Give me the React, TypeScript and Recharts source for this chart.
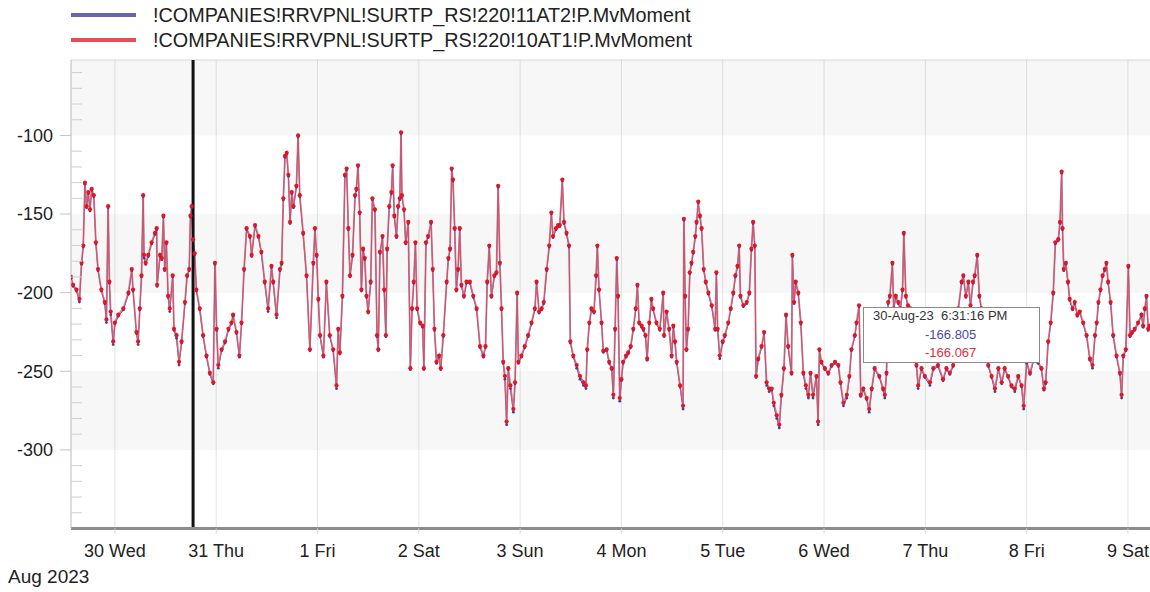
import React from 'react';
import { LineChart, Line, XAxis, YAxis, CartesianGrid, ReferenceArea, ReferenceLine } from 'recharts';

// hours since 30 Aug 2023 00:00
const hours = [
  -10.4, -9.9, -9.1, -8.4, -7.9, -7.5, -7.1, -6.7, -6.3, -5.9,
  -5.5, -5.0, -4.5, -4.0, -3.2, -2.4, -2.0, -1.6, -1.3, -1.0,
  -0.4, 0.0, 0.8, 2.0, 3.2, 4.0, 4.3, 5.1, 5.5, 5.9,
  6.3, 6.7, 6.9, 7.3, 7.9, 8.7, 9.5, 9.9, 10.0, 10.7,
  11.1, 11.5, 11.8, 12.2, 12.6, 13.0, 13.7, 14.0, 14.6, 15.2,
  15.8, 16.6, 17.1, 17.6, 17.9, 18.2, 18.5, 18.9, 19.3, 20.1,
  20.9, 21.7, 22.5, 23.3, 23.7, 24.1, 24.5, 25.3, 26.1, 26.9,
  27.6, 28.0, 28.8, 29.5, 30.0, 30.6, 31.2, 32.0, 32.4, 33.2,
  34.0, 34.7, 35.5, 36.3, 37.1, 37.5, 38.3, 39.1, 39.5, 39.9,
  40.3, 40.7, 41.1, 41.5, 41.9, 42.3, 43.0, 43.4, 43.8, 44.6,
  45.4, 46.2, 47.0, 47.4, 47.8, 48.2, 48.6, 49.4, 50.1, 50.9,
  51.7, 52.5, 52.9,
  53.3, 53.9, 54.5, 54.9, 55.3, 55.7, 56.3, 56.9, 57.2, 57.6,
  58.0, 58.4, 58.8, 59.2, 59.6, 60.0, 60.6, 61.0, 61.6, 62.1,
  62.4, 62.8, 63.4, 63.8, 64.2, 64.5, 65.0, 65.5, 65.8, 66.2,
  66.7, 67.1, 67.5, 67.8, 68.0, 68.5, 68.9, 69.5, 70.0, 70.4,
  70.8, 71.2, 71.6, 72.3, 72.9, 73.2, 73.7, 74.2, 74.9, 75.3,
  75.7, 76.2, 76.8, 77.2, 77.8, 78.6, 79.0, 79.4, 79.8, 80.1,
  80.5, 80.9, 81.3, 81.7, 82.1, 82.7, 83.3, 84.1, 84.9, 85.7,
  86.5, 87.3, 87.8, 88.2, 88.7, 89.2, 89.9, 90.4, 90.8, 91.2,
  91.6, 92.0, 92.4, 92.8, 93.2, 93.7, 94.4, 94.8, 95.3, 95.6,
  96.3, 97.1, 97.9, 98.7, 99.5, 99.9, 100.5, 101.1, 101.6, 102.3,
  102.9, 103.4, 103.8, 104.5, 105.0, 105.4, 106.0, 106.4, 107.0, 107.6,
  107.9, 108.6, 109.4, 110.2, 111.0, 111.6, 111.9, 112.4, 112.9, 113.5,
  114.0, 114.3, 114.7, 115.3, 115.7, 116.5, 117.1,
  117.7, 118.1, 118.5, 118.9, 119.2, 119.6, 120.0, 120.4, 121.1, 121.6,
  122.2, 122.8, 123.4, 123.8, 124.2, 124.8, 125.2, 125.7, 126.1, 126.6,
  127.1, 127.5, 128.3, 129.1, 129.9, 130.1, 130.7, 131.3, 131.9, 132.3,
  132.7, 133.1, 133.9, 134.6, 134.8, 135.1, 135.4, 135.8, 136.2, 136.6,
  137.0, 137.5, 137.8, 138.2, 138.6, 139.0, 139.5, 140.0, 140.6, 141.4,
  142.2, 142.5, 142.8, 143.3, 144.0, 144.5, 145.3, 145.9, 146.5, 147.0,
  147.5, 147.9, 148.2, 148.9, 149.7, 150.3, 150.8, 151.2, 151.6, 151.9,
  152.4, 153.2, 153.8, 154.4, 155.0, 155.6, 156.1, 156.8, 157.4, 157.9,
  158.5, 159.0, 159.5, 160.3, 160.5, 160.9, 161.3, 161.9, 162.5, 163.1,
  163.7, 164.3, 164.8, 165.4, 166.2, 166.6, 166.9, 167.4, 168.2, 169.0,
  169.8, 170.6, 171.4, 171.9, 172.6, 173.4, 174.0, 174.5, 175.3, 175.7,
  176.3, 176.7, 177.3, 178.1, 178.7, 179.3, 180.0, 181.1,
  182.0, 182.4, 182.8, 183.2, 183.6, 184.2, 184.5, 185.0, 185.6, 186.1,
  186.6, 186.9, 187.4, 187.9, 188.5, 189.1, 189.9, 190.3, 191.1, 191.9,
  193.1, 193.9, 195.0, 196.2, 197.0, 197.8, 198.6, 199.8, 200.6, 201.0,
  201.6, 202.2, 202.7, 203.3, 203.7, 204.3, 204.8, 205.3, 206.1, 206.9,
  207.7, 208.5, 209.3, 210.1, 210.8, 211.6, 212.4, 213.2, 214.0, 214.8,
  215.3, 216.0, 216.8, 217.7, 218.7, 219.5, 220.1, 220.5, 221.1, 221.7,
  222.3, 222.8, 223.5, 223.9, 224.3, 224.5, 224.8, 225.3, 225.8, 226.2,
  226.9, 227.4, 228.0, 228.6, 229.4, 230.2, 231.0, 231.6, 232.2, 232.6,
  233.0, 233.5, 234.0, 234.5, 234.9, 235.3, 235.9, 236.5, 237.3, 238.1,
  238.5, 238.9, 239.5, 240.1, 240.5, 241.0, 241.6, 242.4, 243.2, 243.6,
  244.0, 244.4, 244.8, 245.2,
];

// !COMPANIES!RRVPNL!SURTP_RS!220!11AT2!P.MvMoment
const blueSeries = [
  -191, -196, -199, -206, -182, -171, -131, -146, -137, -148,
  -135, -139, -169, -186, -199, -207, -219, -146, -194, -214,
  -233, -220, -215, -211, -201, -186, -199, -226, -233, -211,
  -190, -139, -178, -182, -177, -169, -163, -160, -196, -177,
  -179, -152, -186, -169, -203, -212, -190, -224, -229, -246,
  -232, -207, -190, -186, -152, -146, -166.805, -176, -199, -211,
  -228, -241, -252, -258, -182, -224, -248, -237, -232, -224,
  -220, -215, -226, -241, -220, -186, -160, -165, -177, -158,
  -165, -175, -194, -212, -184, -194, -216, -186, -182, -141,
  -114, -112, -126, -156, -137, -146, -133, -101, -139, -163,
  -190, -237, -182, -160, -177, -205, -228, -241, -194, -228,
  -237, -261, -224,
  -239, -203, -126, -122, -160, -190, -177, -139, -135, -120,
  -150, -199, -173, -179, -203, -213, -194, -141, -148, -228,
  -237, -175, -165, -199, -228, -173, -146, -137, -120, -152,
  -165, -146, -141, -99, -139, -148, -169, -156, -249, -211,
  -194, -169, -211, -220, -222, -249, -169, -165, -156, -186,
  -224, -245, -241, -249, -228, -194, -179, -173, -122, -129,
  -160, -199, -186, -160, -196, -203, -194, -194, -203, -211,
  -235, -241, -235, -194, -171, -203, -190, -188, -133, -182,
  -211, -245, -255, -284, -249, -261, -276, -258, -201, -245,
  -241, -235, -228, -220, -211, -194, -213, -211, -207, -186,
  -171, -150, -165, -160, -158, -158, -129, -156, -163, -171,
  -232, -241, -248, -255, -259, -261, -237, -220, -211, -213,
  -190, -171, -199, -220, -238, -237, -245,
  -249, -267, -224, -179, -203, -269, -256, -245, -241, -239,
  -235, -224, -211, -196, -220, -222, -224, -228, -243, -220,
  -205, -211, -220, -224, -201, -228, -213, -224, -241, -222,
  -232, -245, -260, -274, -154, -203, -237, -224, -188, -182,
  -175, -165, -156, -143, -152, -160, -186, -194, -201, -209,
  -224, -188, -224, -242, -232, -228, -220, -211, -201, -190,
  -184, -171, -203, -209, -207, -201, -173, -156, -171, -254,
  -243, -235, -226, -259, -263, -262, -272, -280, -286, -266,
  -249, -215, -235, -252, -177, -207, -194, -201, -220, -252,
  -261, -267, -252, -267, -254, -284, -237, -245, -249, -252,
  -247, -245, -247, -258, -272, -267, -254, -237, -228, -220,
  -209, -266, -262, -268, -276, -262, -249, -254,
  -262, -267, -252, -207, -203, -182, -211, -203, -207, -211,
  -199, -163, -203, -209, -211, -237, -247, -261, -249, -254,
  -259, -249, -247, -256, -249, -252, -247, -211, -194, -190,
  -203, -194, -209, -194, -190, -177, -203, -211, -237, -247,
  -254, -263, -249, -258, -249, -254, -260, -263, -254, -260,
  -274, -245, -252, -243, -245, -249, -262, -258, -232, -220,
  -201, -169, -167, -156, -124, -160, -186, -182, -194, -205,
  -211, -207, -215, -213, -220, -228, -243, -248, -228, -220,
  -207, -199, -190, -186, -182, -194, -207, -228, -241, -252,
  -267, -241, -237, -184, -228, -226, -224, -220, -215, -222,
  -211, -203, -224, -222,
];

// !COMPANIES!RRVPNL!SURTP_RS!220!10AT1!P.MvMoment
const redSeries = [
  -190, -195, -198, -204, -181, -170, -130, -145, -136, -147,
  -134, -138, -168, -185, -198, -206, -217, -145, -193, -212,
  -231, -219, -214, -210, -200, -185, -198, -225, -231, -210,
  -189, -138, -176, -181, -176, -168, -162, -159, -195, -176,
  -178, -151, -185, -168, -202, -210, -189, -223, -227, -244,
  -231, -206, -189, -185, -151, -145, -166.067, -175, -198, -210,
  -227, -240, -251, -257, -181, -223, -246, -236, -231, -223,
  -219, -214, -225, -240, -219, -185, -159, -164, -176, -157,
  -164, -174, -193, -210, -183, -193, -214, -185, -181, -140,
  -113, -111, -125, -155, -136, -145, -132, -100, -138, -162,
  -189, -236, -181, -159, -176, -204, -227, -240, -193, -227,
  -236, -259, -223,
  -238, -202, -125, -121, -159, -189, -176, -138, -134, -119,
  -149, -198, -172, -178, -202, -212, -193, -140, -147, -227,
  -236, -174, -164, -198, -227, -172, -145, -136, -119, -151,
  -164, -145, -140, -98, -138, -147, -168, -155, -248, -210,
  -193, -168, -210, -219, -221, -248, -168, -164, -155, -185,
  -223, -244, -240, -248, -227, -193, -178, -172, -121, -128,
  -159, -198, -185, -159, -195, -202, -193, -193, -202, -210,
  -234, -240, -234, -193, -170, -202, -189, -187, -132, -181,
  -210, -244, -253, -282, -248, -259, -274, -257, -200, -244,
  -240, -234, -227, -219, -210, -193, -212, -210, -206, -185,
  -170, -149, -164, -159, -157, -157, -128, -155, -162, -170,
  -231, -240, -246, -253, -257, -259, -236, -219, -210, -212,
  -189, -170, -198, -219, -237, -236, -244,
  -248, -265, -223, -178, -202, -267, -255, -244, -240, -238,
  -234, -223, -210, -195, -219, -221, -223, -227, -242, -219,
  -204, -210, -219, -223, -200, -227, -212, -223, -240, -221,
  -231, -244, -259, -272, -153, -202, -236, -223, -187, -181,
  -174, -164, -155, -142, -151, -159, -185, -193, -200, -208,
  -223, -187, -223, -240, -231, -227, -219, -210, -200, -189,
  -183, -170, -202, -208, -206, -200, -172, -155, -170, -253,
  -242, -234, -225, -257, -261, -261, -270, -278, -284, -265,
  -248, -214, -234, -251, -176, -206, -193, -200, -219, -251,
  -259, -265, -251, -265, -253, -282, -236, -244, -248, -251,
  -246, -244, -246, -257, -270, -265, -253, -236, -227, -219,
  -208, -265, -261, -267, -274, -261, -248, -253,
  -261, -265, -251, -206, -202, -181, -210, -202, -206, -210,
  -198, -162, -202, -208, -210, -236, -246, -259, -248, -253,
  -257, -248, -246, -255, -248, -251, -246, -210, -193, -189,
  -202, -193, -208, -193, -189, -176, -202, -210, -236, -246,
  -253, -261, -248, -257, -248, -253, -259, -261, -253, -259,
  -272, -244, -251, -242, -244, -248, -261, -257, -231, -219,
  -200, -168, -166, -155, -123, -159, -185, -181, -193, -204,
  -210, -206, -214, -212, -219, -227, -242, -246, -227, -219,
  -206, -198, -189, -185, -181, -193, -206, -227, -240, -251,
  -265, -240, -236, -183, -227, -225, -223, -219, -214, -221,
  -210, -202, -223, -221,
];

const seriesNames = [
  '!COMPANIES!RRVPNL!SURTP_RS!220!11AT2!P.MvMoment',
  '!COMPANIES!RRVPNL!SURTP_RS!220!10AT1!P.MvMoment',
];
const seriesColors = ['#4b4ca6', '#e0303a'];

const dayTicks = [0, 24, 48, 72, 96, 120, 144, 168, 192, 216, 240];
const dayLabels = ['30 Wed', '31 Thu', '1 Fri', '2 Sat', '3 Sun', '4 Mon', '5 Tue', '6 Wed', '7 Thu', '8 Fri', '9 Sat'];
const monthLabel = 'Aug 2023';

const yTicks = [-340, -330, -320, -310, -300, -290, -280, -270, -260, -250, -240, -230, -220, -210, -200,
  -190, -180, -170, -160, -150, -140, -130, -120, -110, -100, -90, -80, -70, -60];
const bands = [[-100, -52], [-200, -150], [-300, -250]];

const cursorHour = 18.52;
const cursorLabel = '30-Aug-23  6:31:16 PM';
const cursorValues = ['-166.805', '-166.067'];

const data = hours.map((h, i) => ({ h, blue: blueSeries[i], red: redSeries[i] }));

const AXIS_X = 71;

const YTick = (props: any) => {
  const { y, payload } = props;
  const v = payload.value;
  if (v % 50 === 0) {
    return (
      <g>
        <line x1={AXIS_X - 11} x2={AXIS_X} y1={y} y2={y} stroke="#c4c4c4" />
        <text x={AXIS_X - 18} y={y} dy="0.35em" textAnchor="end" fontSize={18} fill="#222">{v}</text>
      </g>
    );
  }
  return <line x1={AXIS_X} x2={AXIS_X + 11} y1={y} y2={y} stroke="#cfcfcf" />;
};

const font = '"Liberation Sans", Arial, sans-serif';

export default function App() {
  return (
    <div style={{ position: 'absolute', left: 0, top: 0, width: 1150, height: 592, overflow: 'hidden', background: '#fff', fontFamily: font }}>
      {seriesNames.map((name, i) => (
        <div key={name} style={{ position: 'absolute', left: 71, top: 15 + i * 25 - 12, height: 24, display: 'flex', alignItems: 'center' }}>
          <div style={{ width: 65, height: 4, background: seriesColors[i], opacity: 0.85 }} />
          <span style={{ marginLeft: 17, fontSize: 19.8, color: '#222', whiteSpace: 'pre' }}>{name}</span>
        </div>
      ))}

      <LineChart width={1160} height={592} data={data} margin={{ top: 60, right: 8, bottom: 0, left: 0 }} style={{ fontFamily: font }}>
        <CartesianGrid horizontal={false} stroke="#e4e4e4" />
        {bands.map((b) => (
          <ReferenceArea key={b[0]} y1={b[0]} y2={b[1]} fill="#000" fillOpacity={0.03} stroke="none" />
        ))}
        <XAxis
          dataKey="h"
          type="number"
          domain={[-10.4, 245.7]}
          allowDataOverflow
          ticks={dayTicks}
          interval={0}
          tickFormatter={(v: number) => dayLabels[dayTicks.indexOf(v)]}
          height={63.5}
          tickSize={5}
          tickMargin={11}
          axisLine={{ stroke: '#8c8c8c', strokeWidth: 3 }}
          tickLine={{ stroke: '#d8d8d8' }}
          tick={{ fontSize: 18, fill: '#222' }}
        />
        <YAxis
          type="number"
          domain={[-350, -52]}
          allowDataOverflow
          ticks={yTicks}
          interval={0}
          width={71}
          tickSize={11}
          tickMargin={7}
          tickLine={false}
          axisLine={{ stroke: '#c8c8c8' }}
          tick={<YTick />}
        />
        <ReferenceLine y={-52} stroke="#d6d6d6" />
        <Line
          dataKey="blue"
          type="linear"
          stroke="#5050a8"
          strokeWidth={1}
          dot={{ r: 1.4, fill: '#3f3fa0', stroke: 'none' }}
          activeDot={false}
          isAnimationActive={false}
        />
        <Line
          dataKey="red"
          type="linear"
          stroke="#d55a6d"
          strokeWidth={1.8}
          strokeOpacity={0.8}
          dot={{ r: 2.1, fill: '#e5141e', stroke: 'none' }}
          activeDot={false}
          isAnimationActive={false}
        />
        <ReferenceLine x={cursorHour} stroke="#111" strokeWidth={3} />
      </LineChart>

      <div style={{ position: 'absolute', left: 8, top: 566, fontSize: 19, color: '#222' }}>{monthLabel}</div>

      <div style={{ position: 'absolute', left: 863, top: 307, width: 175, height: 54, border: '1px solid #8a8a8a', background: '#fff', fontSize: 13 }}>
        <div style={{ position: 'absolute', left: 9, top: 0, whiteSpace: 'pre', color: '#333' }}>{cursorLabel}</div>
        <div style={{ position: 'absolute', left: 61, top: 19, color: seriesColors[0] }}>{cursorValues[0]}</div>
        <div style={{ position: 'absolute', left: 61, top: 37, color: seriesColors[1] }}>{cursorValues[1]}</div>
      </div>
    </div>
  );
}
